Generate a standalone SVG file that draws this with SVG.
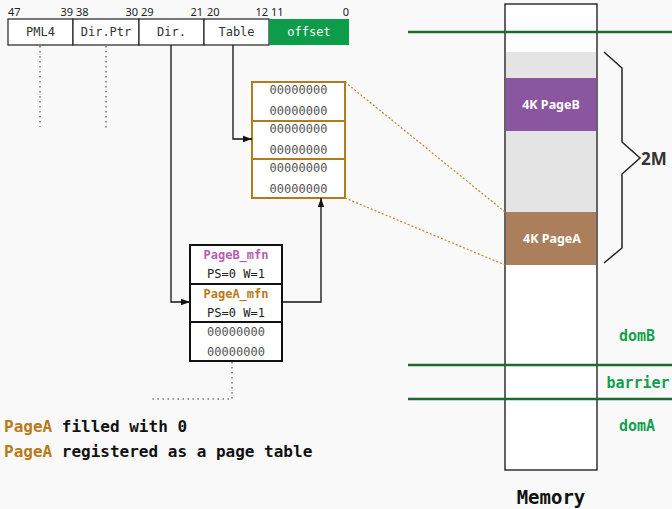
<svg xmlns="http://www.w3.org/2000/svg" width="672" height="509" viewBox="0 0 672 509">
  <style>
    .mono { font-family: "DejaVu Sans Mono", "Liberation Mono", monospace; }
    .sans { font-family: "Noto Sans", "Liberation Sans", sans-serif; }
    .bits { font-family: "Noto Sans", "Liberation Sans", sans-serif; font-size: 11px; fill: #222; }
    .field { fill: #fff; stroke: #222; stroke-width: 1.2; }
    .flab { font-size: 12px; fill: #333; text-anchor: middle; }
    .cellA { fill: #fff; stroke: #b47a1e; stroke-width: 2; }
    .cellB { fill: #fff; stroke: #111; stroke-width: 2; }
    .zero { font-size: 12px; fill: #555; text-anchor: middle; }
    .wire { fill: none; stroke: #111; stroke-width: 1.3; }
    .dots { fill: none; stroke: #333; stroke-width: 1; stroke-dasharray: 1.5 3.5; }
    .lead { fill: none; stroke: #c0842a; stroke-width: 1.2; stroke-dasharray: 2 2; }
    .fence { stroke: #1d6a34; stroke-width: 2.5; }
    .dom { font-size: 15px; font-weight: bold; fill: #13a04e; text-anchor: middle; }
    .note { font-size: 16px; font-weight: bold; fill: #111; }
  </style>
  <defs>
    <marker id="arrow" viewBox="0 0 10 10" refX="10" refY="5" markerWidth="9" markerHeight="9" markerUnits="userSpaceOnUse" orient="auto">
      <path d="M0,1.5 L10,5 L0,8.5 z" fill="#111"/>
    </marker>
  </defs>
  <rect width="672" height="509" fill="#f9f9f9"/>

  <!-- memory column with domain fences -->
  <g id="memory">
    <rect x="505" y="4" width="92" height="466" fill="#fff" stroke="#111" stroke-width="1.3"/>
    <rect x="506" y="52" width="90" height="160" fill="#e4e4e4"/>
    <rect x="506" y="78" width="90" height="53" fill="#8a56a0"/>
    <text class="sans" x="551" y="109" font-size="12.5" font-weight="bold" fill="#fff" text-anchor="middle">4K PageB</text>
    <rect x="506" y="212" width="90" height="53" fill="#ab7f5b"/>
    <text class="sans" x="552" y="243" font-size="12.5" font-weight="bold" fill="#fff" text-anchor="middle">4K PageA</text>
    <text class="mono" x="551" y="504" font-size="19" font-weight="bold" fill="#111" text-anchor="middle">Memory</text>
  </g>
  <g id="fences">
    <line class="fence" x1="408" y1="32" x2="672" y2="32"/>
    <line class="fence" x1="408" y1="365" x2="672" y2="365"/>
    <line class="fence" x1="408" y1="399" x2="672" y2="399"/>
    <text class="mono dom" x="637" y="341">domB</text>
    <text class="mono dom" x="638" y="388">barrier</text>
    <text class="mono dom" x="637" y="431">domA</text>
  </g>
  <g id="brace">
    <path d="M604,52 L622,68 L622,142 L640,158 L622,174 L622,248 L604,263" fill="none" stroke="#222" stroke-width="1.5"/>
    <text class="sans" x="641" y="165" font-size="17" font-weight="bold" fill="#333">2M</text>
  </g>

  <!-- virtual address bit fields -->
  <g id="address">
    <text class="bits" x="8" y="16">47</text>
    <text class="bits" x="73" y="16" text-anchor="end">39</text>
    <text class="bits" x="76" y="16">38</text>
    <text class="bits" x="138" y="16" text-anchor="end">30</text>
    <text class="bits" x="141" y="16">29</text>
    <text class="bits" x="203" y="16" text-anchor="end">21</text>
    <text class="bits" x="207" y="16">20</text>
    <text class="bits" x="268" y="16" text-anchor="end">12</text>
    <text class="bits" x="271" y="16">11</text>
    <text class="bits" x="349" y="16" text-anchor="end">0</text>
    <rect class="field" x="8" y="19" width="65" height="26"/>
    <rect class="field" x="73" y="19" width="66" height="26"/>
    <rect class="field" x="139" y="19" width="65" height="26"/>
    <rect class="field" x="204" y="19" width="65" height="26"/>
    <rect x="269" y="19" width="80" height="26" fill="#0d9c4a"/>
    <text class="mono flab" x="40.5" y="36">PML4</text>
    <text class="mono flab" x="106" y="36">Dir.Ptr</text>
    <text class="mono flab" x="171.5" y="36">Dir.</text>
    <text class="mono flab" x="236.5" y="36">Table</text>
    <text class="mono flab" x="309" y="36" style="fill:#fff">offset</text>
  </g>

  <!-- page table holding the mfn entries -->
  <g id="page-table">
    <rect class="cellA" x="252" y="82" width="93" height="39"/>
    <rect class="cellA" x="252" y="121" width="93" height="38"/>
    <rect class="cellA" x="252" y="159" width="93" height="39"/>
    <text class="mono zero" x="298.5" y="94">00000000</text>
    <text class="mono zero" x="298.5" y="115">00000000</text>
    <text class="mono zero" x="298.5" y="133">00000000</text>
    <text class="mono zero" x="298.5" y="154">00000000</text>
    <text class="mono zero" x="298.5" y="172">00000000</text>
    <text class="mono zero" x="298.5" y="193">00000000</text>
  </g>

  <!-- page directory entries -->
  <g id="page-dir">
    <rect class="cellB" x="190" y="245" width="92" height="39"/>
    <rect class="cellB" x="190" y="284" width="92" height="38"/>
    <rect class="cellB" x="190" y="322" width="92" height="39"/>
    <text class="mono" x="236" y="259" font-size="12" font-weight="bold" fill="#b45db2" text-anchor="middle">PageB_mfn</text>
    <text class="mono" x="236" y="278" font-size="12" fill="#222" text-anchor="middle">PS=0 W=1</text>
    <text class="mono" x="236" y="298" font-size="12" font-weight="bold" fill="#b87a1a" text-anchor="middle">PageA_mfn</text>
    <text class="mono" x="236" y="317" font-size="12" fill="#222" text-anchor="middle">PS=0 W=1</text>
    <text class="mono zero" x="236" y="336">00000000</text>
    <text class="mono zero" x="236" y="356">00000000</text>
  </g>

  <!-- connectors -->
  <g id="connectors">
    <path class="dots" d="M40,46 V127"/>
    <path class="dots" d="M106,46 V128"/>
    <path class="wire" d="M171,45 V302 H190" marker-end="url(#arrow)"/>
    <path class="wire" d="M233,45 V139 H252" marker-end="url(#arrow)"/>
    <path class="wire" d="M282,302 H321 V198" marker-end="url(#arrow)"/>
    <path class="dots" d="M232,362 V399 H150"/>
    <path class="lead" d="M345,82 L505,212"/>
    <path class="lead" d="M345,198 L505,265"/>
  </g>

  <!-- notes -->
  <g id="notes">
    <text class="mono note" x="4" y="432"><tspan fill="#b87a1a">PageA</tspan> filled with 0</text>
    <text class="mono note" x="4" y="457"><tspan fill="#b87a1a">PageA</tspan> registered as a page table</text>
  </g>
</svg>
